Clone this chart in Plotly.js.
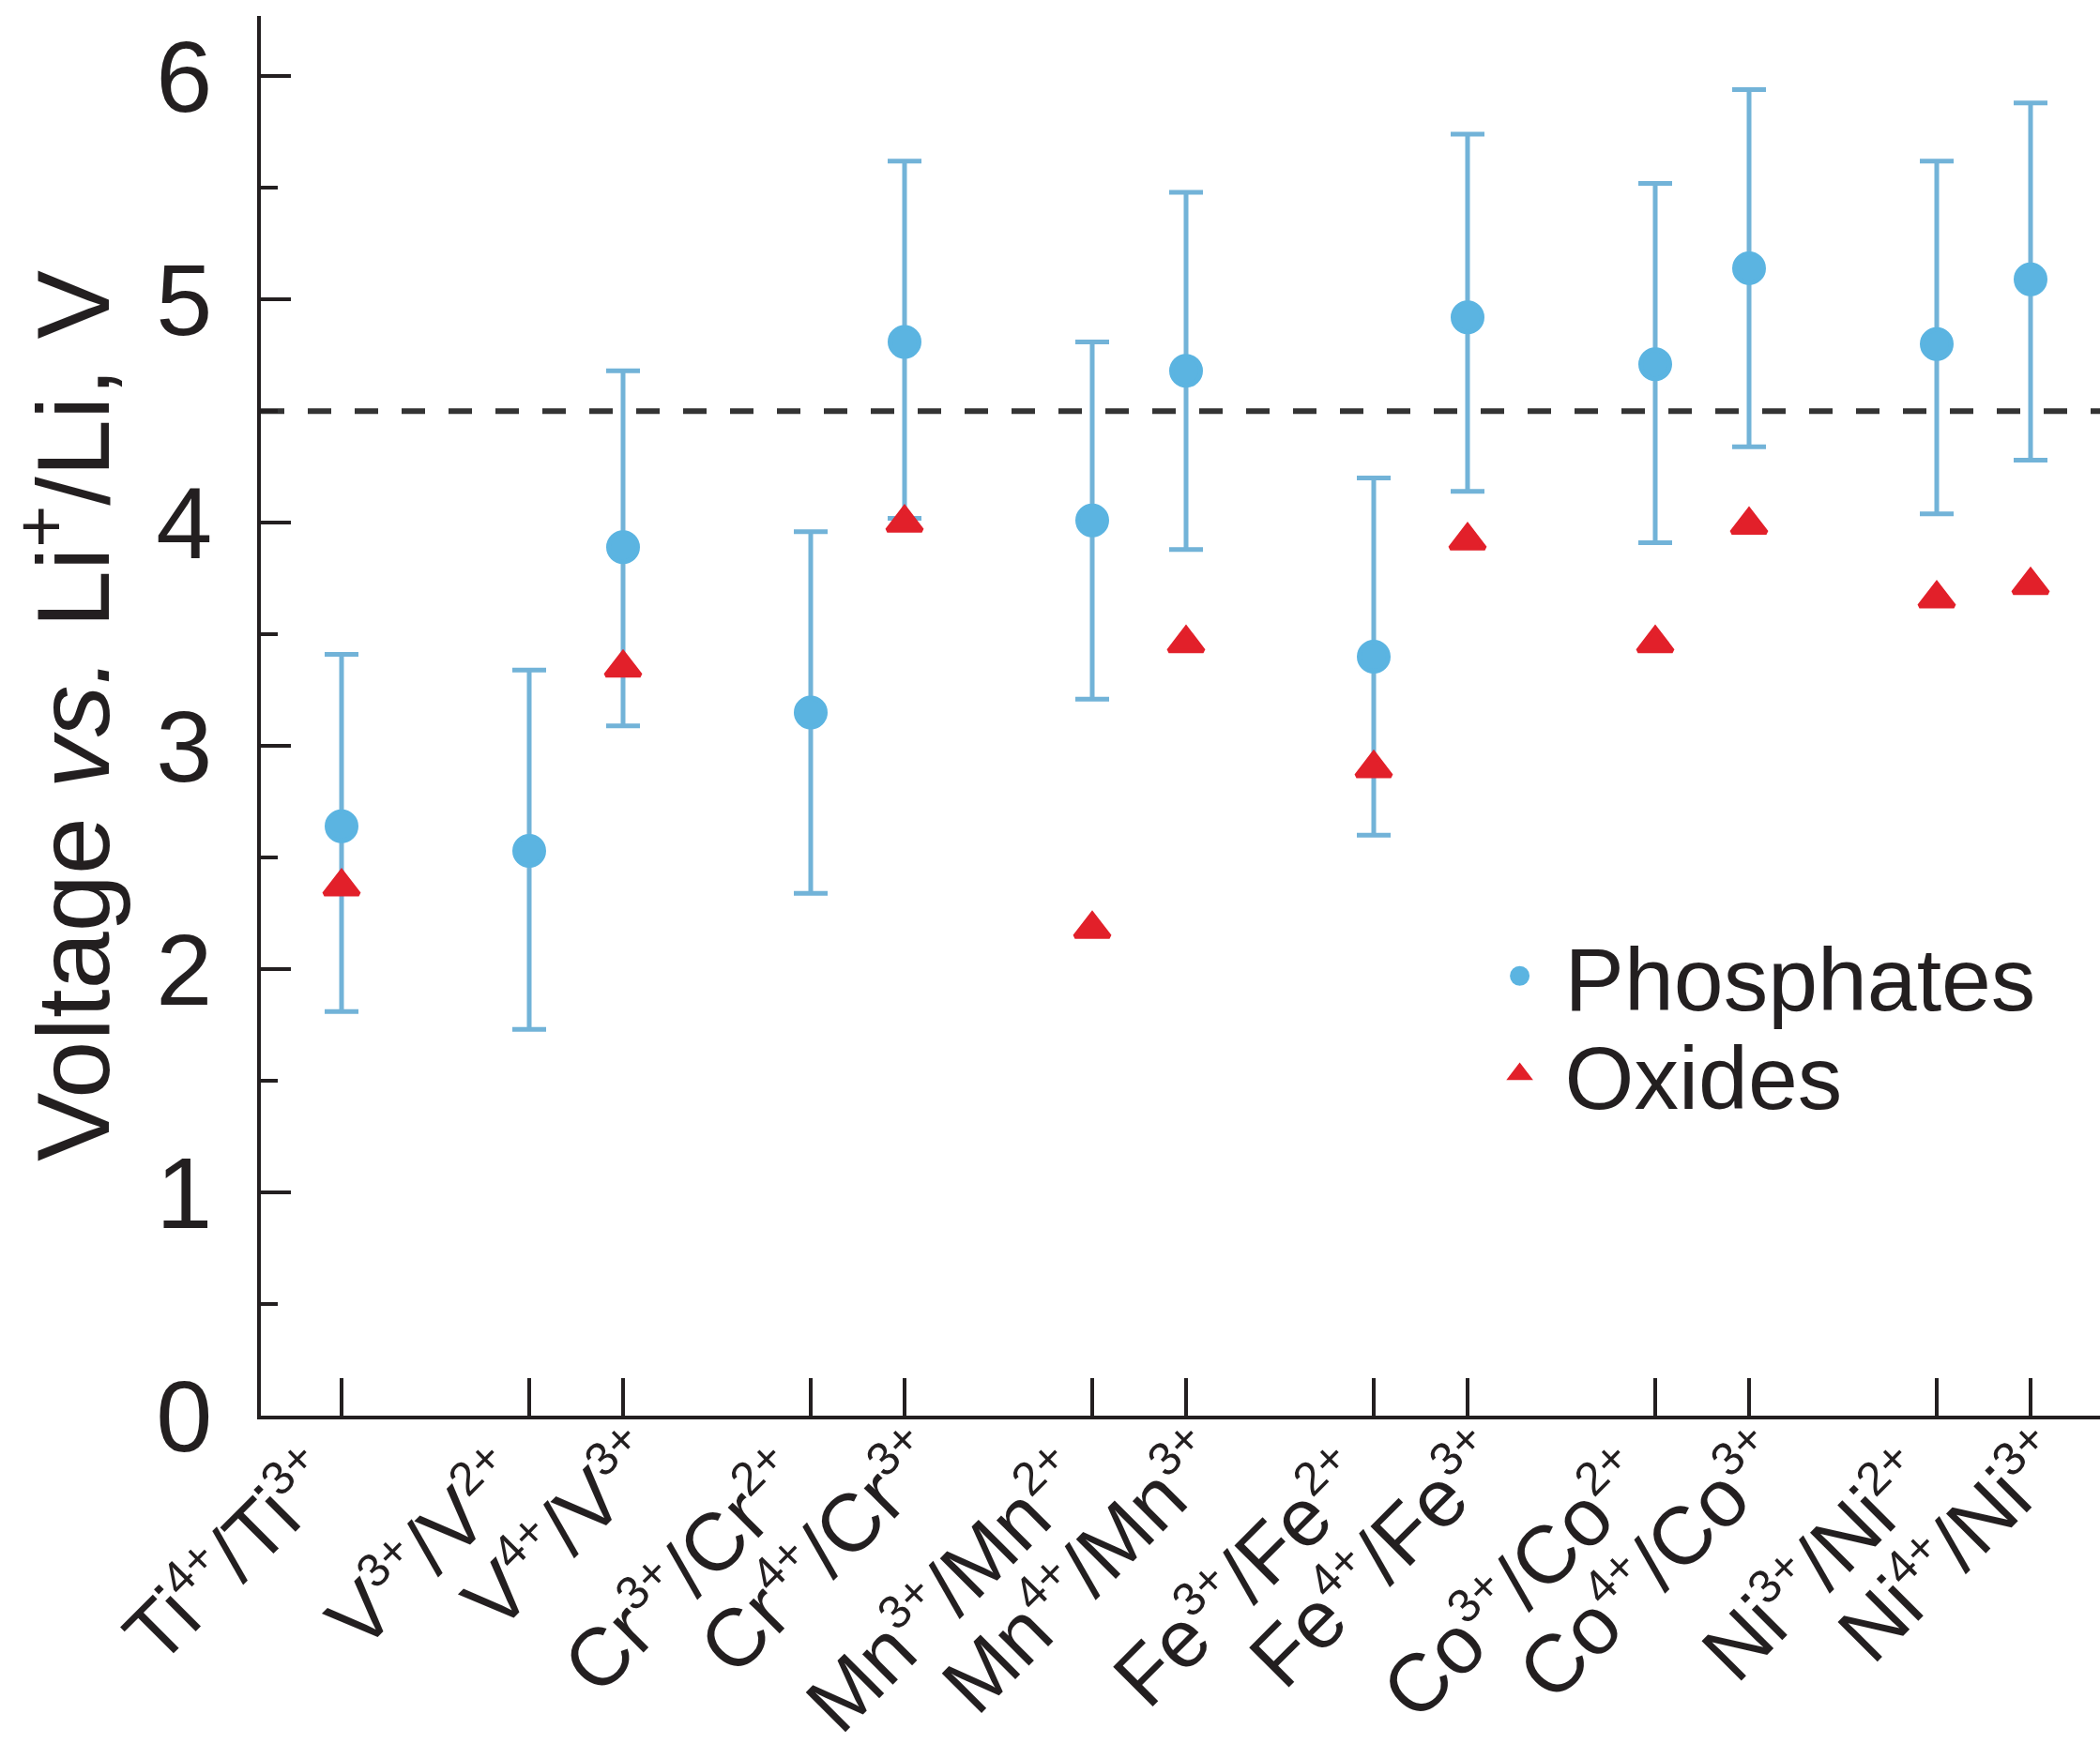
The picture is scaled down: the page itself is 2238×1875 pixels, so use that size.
<!DOCTYPE html>
<html>
<head>
<meta charset="utf-8">
<script src="https://cdn.plot.ly/plotly-3.0.1.min.js"></script>
<style>
  html, body { margin: 0; padding: 0; background: #ffffff; }
  #chart { width: 2238px; height: 1875px; }
</style>
</head>
<body>
<div id="chart"></div>
<script>
// ---- Data ----
// element index (Ti=0 ... Ni=6) and couple type of each redox pair
const elementIndex = [0, 1, 1, 2, 2, 3, 3, 4, 4, 5, 5, 6, 6];
const coupleType   = ['4+/3+', '3+/2+', '4+/3+', '3+/2+', '4+/3+', '3+/2+', '4+/3+',
                      '3+/2+', '4+/3+', '3+/2+', '4+/3+', '3+/2+', '4+/3+'];
const tickLabels = [
  'Ti<sup>4+</sup>/Ti<sup>3+</sup>',
  'V<sup>3+</sup>/V<sup>2+</sup>',
  'V<sup>4+</sup>/V<sup>3+</sup>',
  'Cr<sup>3+</sup>/Cr<sup>2+</sup>',
  'Cr<sup>4+</sup>/Cr<sup>3+</sup>',
  'Mn<sup>3+</sup>/Mn<sup>2+</sup>',
  'Mn<sup>4+</sup>/Mn<sup>3+</sup>',
  'Fe<sup>3+</sup>/Fe<sup>2+</sup>',
  'Fe<sup>4+</sup>/Fe<sup>3+</sup>',
  'Co<sup>3+</sup>/Co<sup>2+</sup>',
  'Co<sup>4+</sup>/Co<sup>3+</sup>',
  'Ni<sup>3+</sup>/Ni<sup>2+</sup>',
  'Ni<sup>4+</sup>/Ni<sup>3+</sup>'
];
const phosphates     = [2.64, 2.53, 3.89, 3.15, 4.81, 4.01, 4.68, 3.40, 4.92, 4.71, 5.14, 4.80, 5.09];
const phosphatesLow  = [1.81, 1.73, 3.09, 2.34, 4.02, 3.21, 3.88, 2.60, 4.14, 3.91, 4.34, 4.04, 4.28];
const phosphatesHigh = [3.41, 3.34, 4.68, 3.96, 5.62, 4.81, 5.48, 4.20, 5.74, 5.52, 5.94, 5.62, 5.88];
const oxides         = [2.37, null, 3.35, null, 4.00, 2.18, 3.46, 2.90, 3.92, 3.46, 3.99, 3.66, 3.72];
const thresholdVoltage = 4.5;
const yTickVals = [0, 1, 2, 3, 4, 5, 6];

// ---- Derived slot positions: each element owns three slots (gap, 3+/2+, 4+/3+) ----
const xPos = elementIndex.map((e, i) => 3 * e - (coupleType[i] === '3+/2+' ? 1 : 0));
const errPlus  = phosphates.map((v, i) => +(phosphatesHigh[i] - v).toFixed(3));
const errMinus = phosphates.map((v, i) => +(v - phosphatesLow[i]).toFixed(3));

// smaller superscripts, as in the reference lettering
const SUP_PX = 50;
const fmtLabel = s => s.replace(/<sup>(.*?)<\/sup>/g, '<sup><span style="font-size:' + SUP_PX + 'px">$1</span></sup>');
// first label of each element pair leans left, second leans right (two overlaid axes)
const isFirstOfElement = elementIndex.map((e, i) => i === 0 || elementIndex[i - 1] !== e);
const leftVals  = xPos.filter((_, i) => isFirstOfElement[i]);
const leftText  = tickLabels.filter((_, i) => isFirstOfElement[i]).map(fmtLabel);
const rightVals = xPos.filter((_, i) => !isFirstOfElement[i]);
const rightText = tickLabels.filter((_, i) => !isFirstOfElement[i]).map(fmtLabel);

const FONT = 'Liberation Sans, Arial, Helvetica, sans-serif';
const INK = '#231f20';
const BLUE = '#5bb4e1';
const BAR = '#72b3d8';
const RED = '#e2202a';

const traces = [
  {
    type: 'scatter', mode: 'markers', name: 'Phosphates', legend: 'legend',
    x: xPos, y: phosphates,
    marker: { symbol: 'circle', size: 31, color: BLUE, line: { color: BLUE, width: 5 } },
    error_y: { type: 'data', symmetric: false, array: errPlus, arrayminus: errMinus,
               color: BAR, thickness: 5, width: 18 },
    cliponaxis: false
  },
  {
    type: 'scatter', mode: 'markers', name: 'Oxides', legend: 'legend2',
    x: xPos, y: oxides,
    marker: { symbol: 'triangle-up', size: 32, color: RED, line: { color: RED, width: 5 } },
    cliponaxis: false
  },
  { type: 'scatter', mode: 'markers', x: [], y: [], xaxis: 'x2', yaxis: 'y', showlegend: false, hoverinfo: 'skip' }
];

const legendCommon = {
  x: 0.66, xanchor: 'left', yanchor: 'middle',
  bgcolor: 'rgba(0,0,0,0)', borderwidth: 0,
  font: { family: FONT, size: 95, color: INK },
  itemwidth: 86, tracegroupgap: 0
};

const xCommon = {
  range: [-0.86, 18.74],
  tickmode: 'array',
  tickangle: -45,
  ticks: 'inside', ticklen: 40, tickwidth: 4, tickcolor: INK,
  showgrid: false, zeroline: false,
  tickfont: { family: FONT, size: 87, color: INK },
  ticklabelstandoff: -22
};

const layout = {
  width: 2238, height: 1875,
  margin: { l: 278, r: 0, t: 17, b: 366, pad: 0 },
  paper_bgcolor: '#ffffff', plot_bgcolor: '#ffffff',
  font: { family: FONT, color: INK, size: 100 },
  showlegend: true,
  legend: Object.assign({}, legendCommon, { y: 0.314 }),
  legend2: Object.assign({}, legendCommon, { y: 0.244 }),
  xaxis: Object.assign({}, xCommon, {
    tickvals: leftVals, ticktext: leftText, ticklabelshift: -30,
    showline: true, linewidth: 4, linecolor: INK
  }),
  xaxis2: Object.assign({}, xCommon, {
    overlaying: 'x', anchor: 'y', side: 'bottom',
    tickvals: rightVals, ticktext: rightText, ticklabelshift: 15,
    showline: false
  }),
  yaxis: {
    range: [0, 6.27],
    tickmode: 'array', tickvals: yTickVals,
    ticks: 'inside', ticklen: 32, tickwidth: 4, tickcolor: INK,
    minor: { dtick: 0.5, ticks: 'inside', ticklen: 18, tickwidth: 4, tickcolor: INK, showgrid: false },
    showline: true, linewidth: 4, linecolor: INK,
    showgrid: false, zeroline: false,
    tickfont: { family: FONT, size: 108, color: INK },
    ticklabelstandoff: 26,
    title: { text: 'Voltage <i>vs.</i> Li<sup>+</sup>/Li, V', font: { family: FONT, size: 110, color: INK }, standoff: 30 }
  },
  shapes: [
    { type: 'line', xref: 'paper', x0: 0, x1: 1, yref: 'y', y0: thresholdVoltage, y1: thresholdVoltage,
      line: { color: '#333333', width: 6, dash: '25px,25px' }, layer: 'below' }
  ]
};

Plotly.newPlot('chart', traces, layout, { staticPlot: true, displayModeBar: false });
</script>
</body>
</html>
